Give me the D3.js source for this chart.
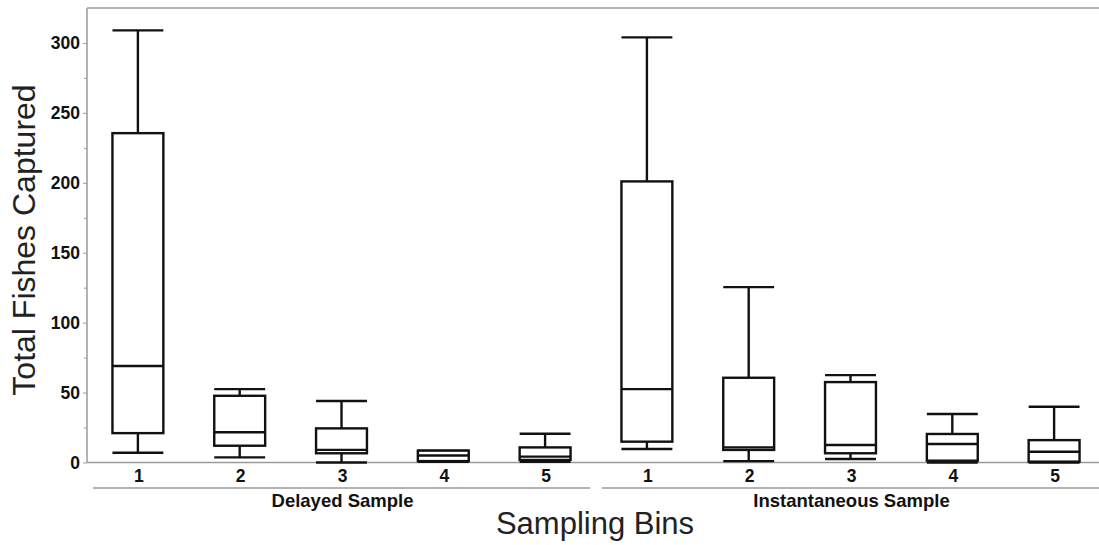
<!DOCTYPE html>
<html>
<head>
<meta charset="utf-8">
<script src="https://cdn.jsdelivr.net/npm/d3@7"></script>
<style>
  html, body { margin: 0; padding: 0; background: #fff; }
  svg { display: block; font-family: "Liberation Sans", Arial, sans-serif; }
</style>
</head>
<body>
<svg id="chart" width="1099" height="545"></svg>
<script>
// Sampling bins within each sampling method
const groups = ["Delayed Sample", "Instantaneous Sample"];
const bins = ["1", "2", "3", "4", "5"];

// Box statistics per bin: [lower whisker, Q1, median, Q3, upper whisker]
const delayedStats = [
  [7, 21, 69, 235.5, 309],
  [3.7, 12, 21.6, 47.7, 52.5],
  [0, 6.6, 9, 24.4, 44],
  [0.5, 1, 5, 8.5, 8.5],
  [0.5, 1.8, 4.2, 10.8, 20.6]
];
const instantStats = [
  [9.6, 14.9, 52.5, 201, 304],
  [1, 9, 10.8, 60.6, 125.4],
  [2.5, 6.6, 12.5, 57.5, 62.5],
  [0, 1.3, 13.2, 20.4, 34.7],
  [0, 0.6, 7.7, 16, 39.9]
];

const yTicks = [0, 50, 100, 150, 200, 250, 300];
const yMinorTicks = [25, 75, 125, 175, 225, 275];

const svg = d3.select("#chart");
const plotLeft = 87, plotTop = 8, plotBottom = 462.5, plotRight = 1105;

const rows = [];
groups.forEach((g, gi) => {
  const stats = gi === 0 ? delayedStats : instantStats;
  bins.forEach((b, bi) => {
    const s = stats[bi];
    rows.push({ key: g + "|" + b, group: g, bin: b, lo: s[0], q1: s[1], med: s[2], q3: s[3], hi: s[4] });
  });
});

const x = d3.scaleBand().domain(rows.map(d => d.key)).range([plotLeft, plotRight]).paddingInner(0.5).paddingOuter(0.25);
const y = d3.scaleLinear().domain([0, 325]).range([plotBottom, plotTop]);

// Frame: top border and baseline
svg.append("line").attr("x1", plotLeft).attr("x2", 1099).attr("y1", plotTop).attr("y2", plotTop)
  .attr("stroke", "#9a9a9a").attr("stroke-width", 1.5);
svg.append("line").attr("x1", plotLeft).attr("x2", 1099).attr("y1", plotBottom).attr("y2", plotBottom)
  .attr("stroke", "#9a9a9a").attr("stroke-width", 1.5);

// Y axis
const yAxis = d3.axisLeft(y).tickValues(yTicks).tickSize(4).tickPadding(3);
const gy = svg.append("g").attr("transform", `translate(${plotLeft},0)`).call(yAxis);
gy.select(".domain").attr("stroke", "#9a9a9a").attr("stroke-width", 1.5).attr("d", `M0,${plotBottom}V${plotTop}`);
gy.selectAll(".tick line").attr("stroke", "#9a9a9a");
gy.selectAll(".tick text").attr("font-size", 17.5).attr("font-weight", "bold").attr("fill", "#111")
  .attr("font-family", "'Liberation Sans', Arial, sans-serif");
const gMinor = svg.append("g").attr("transform", `translate(${plotLeft},0)`)
  .call(d3.axisLeft(y).tickValues(yMinorTicks).tickSize(3).tickFormat(""));
gMinor.select(".domain").remove();
gMinor.selectAll(".tick line").attr("stroke", "#9a9a9a");

// Boxes
const bw = x.bandwidth();
const boxes = svg.append("g").attr("stroke", "#111").attr("stroke-width", 2.4).attr("fill", "none");
rows.forEach(d => {
  const x0 = x(d.key), xc = x0 + bw / 2;
  const g = boxes.append("g");
  // whiskers
  g.append("line").attr("x1", xc).attr("x2", xc).attr("y1", y(d.q3)).attr("y2", y(d.hi));
  g.append("line").attr("x1", xc).attr("x2", xc).attr("y1", y(d.q1)).attr("y2", y(d.lo));
  g.append("line").attr("x1", x0).attr("x2", x0 + bw).attr("y1", y(d.hi)).attr("y2", y(d.hi));
  g.append("line").attr("x1", x0).attr("x2", x0 + bw).attr("y1", y(d.lo)).attr("y2", y(d.lo));
  // box and median
  g.append("rect").attr("x", x0).attr("y", y(d.q3)).attr("width", bw).attr("height", y(d.q1) - y(d.q3))
    .attr("fill", "#fff");
  g.append("line").attr("x1", x0).attr("x2", x0 + bw).attr("y1", y(d.med)).attr("y2", y(d.med));
});

// Bin labels
svg.append("g").selectAll("text").data(rows).join("text")
  .attr("x", d => x(d.key) + bw / 2 + 1)
  .attr("y", 482)
  .attr("text-anchor", "middle")
  .attr("font-size", 17.5).attr("font-weight", "bold").attr("fill", "#111")
  .text(d => d.bin);

// Group brackets and labels
groups.forEach(g => {
  const keys = rows.filter(r => r.group === g).map(r => r.key);
  const gx0 = x(keys[0]) - x.step() * x.paddingInner() / 2;
  const gx1 = x(keys[keys.length - 1]) + bw + x.step() * x.paddingInner() / 2;
  svg.append("line").attr("x1", gx0 + 6).attr("x2", gx1 - 6).attr("y1", 488).attr("y2", 488)
    .attr("stroke", "#9a9a9a").attr("stroke-width", 1.5);
  svg.append("text").attr("x", x(keys[2]) + bw / 2 + 1).attr("y", 507)
    .attr("text-anchor", "middle").attr("font-size", 18.5).attr("font-weight", "bold").attr("fill", "#111")
    .text(g);
});

// Axis titles
svg.append("text").attr("x", 595).attr("y", 534).attr("text-anchor", "middle")
  .attr("font-size", 31).attr("fill", "#222").text("Sampling Bins");
svg.append("text").attr("transform", "translate(35,240) rotate(-90)").attr("text-anchor", "middle")
  .attr("font-size", 32).attr("fill", "#222").text("Total Fishes Captured");
</script>
</body>
</html>
